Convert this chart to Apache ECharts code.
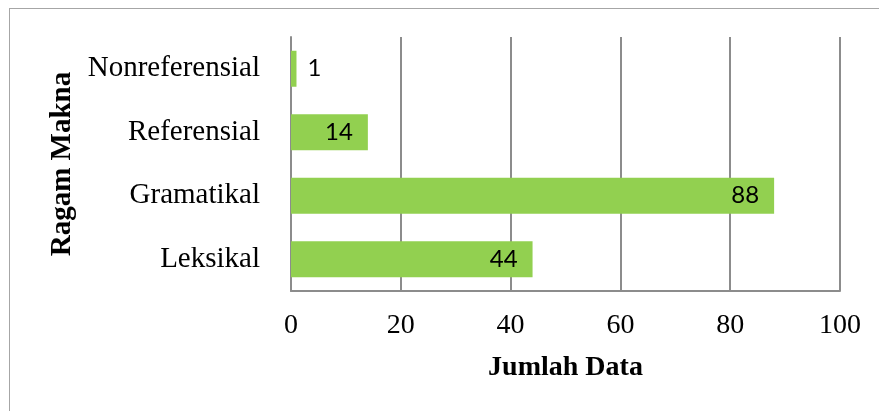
<!DOCTYPE html>
<html><head><meta charset="utf-8">
<script src="https://cdn.jsdelivr.net/npm/echarts@6/dist/echarts.min.js"></script>
<style>html,body{margin:0;padding:0;background:#fff}#c{width:879px;height:411px;position:relative}
#frame{position:absolute;left:9px;top:8px;width:900px;height:420px;border:1.5px solid #a6a6a6;box-sizing:border-box;pointer-events:none}</style>
</head><body><div id="c"></div><div id="frame"></div>
<script>
var categories = ['Leksikal', 'Gramatikal', 'Referensial', 'Nonreferensial'];
var values = [44, 88, 14, 1];
var xTicks = [0, 20, 40, 60, 80, 100];
var chart = echarts.init(document.getElementById('c'));
chart.setOption({
  animation: false,
  grid: {left: 291, right: 39, top: 37, bottom: 120, containLabel: false},
  xAxis: {
    type: 'value', min: xTicks[0], max: xTicks[xTicks.length-1], interval: 20,
    name: 'Jumlah Data', nameLocation: 'middle', nameGap: 63,
    nameTextStyle: {fontFamily: 'Liberation Serif', fontWeight: 'bold', fontSize: 28, color: '#000'},
    axisLine: {show: true, lineStyle: {color: '#8c8c8c', width: 2}},
    axisTick: {show: false},
    axisLabel: {fontFamily: 'Liberation Serif', fontSize: 28, color: '#000', margin: 21},
    splitLine: {show: true, lineStyle: {color: '#8c8c8c', width: 2}}
  },
  yAxis: {
    type: 'category', data: categories,
    name: 'Ragam Makna', nameLocation: 'middle', nameGap: 213, nameRotate: 90,
    nameTextStyle: {fontFamily: 'Liberation Serif', fontWeight: 'bold', fontSize: 29, color: '#000'},
    axisLine: {show: true, lineStyle: {color: '#8c8c8c', width: 2}},
    axisTick: {show: false},
    axisLabel: {fontFamily: 'Liberation Serif', fontSize: 29, color: '#000', margin: 31}
  },
  series: [{
    type: 'bar', barWidth: 36,
    itemStyle: {color: '#92D050'},
    label: {show: true, position: 'insideRight', distance: 15, fontFamily: 'Lato', fontSize: 24, color: '#000'},
    data: values.map(function(v){
      return v < 5 ? {value: v, label: {position: 'right', distance: 11}} : v;
    })
  }]
});
</script></body></html>
